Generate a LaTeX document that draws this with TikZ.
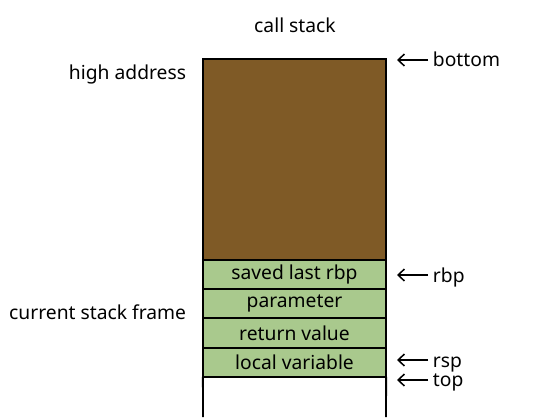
\documentclass[tikz,border=0pt]{standalone}
\usepackage{fontspec}
\setmainfont{Noto Sans}
\usetikzlibrary{positioning,arrows.meta}
\definecolor{oldbrown}{RGB}{127,90,38}
\definecolor{framegreen}{RGB}{169,201,141}
\begin{document}
\begin{tikzpicture}[x=0.025cm,y=-0.025cm,
every node/.style={font=\fontsize{13.7}{16}\selectfont,text=black},
slot/.style={draw=black,line width=1.4pt,outer sep=0pt,minimum width=4.575cm,inner sep=0pt},
oldpart/.style={slot,fill=oldbrown,minimum height=5.025cm},
cell/.style={slot,fill=framegreen,minimum height=0.73cm},
side/.style={anchor=east},
ptr/.style={line width=1.1pt,-{Straight Barb[length=4.5pt,width=8.5pt]}},
ptrlabel/.style={anchor=base west}
]
\useasboundingbox (0,0) rectangle (560,417);
\node (title) at (295,25) {call stack};
% the stack, growing downwards
\node[oldpart] (old) at (294.5,159.5) {};
\node[cell,below=0pt of old] (saved) {saved last rbp};
\node[cell,below=0pt of saved] (param) {parameter};
\node[cell,below=0pt of param] (retval) {return value};
\node[cell,below=0pt of retval] (local) {local variable};
\coordinate (freel) at (203,417);
\coordinate (freer) at (386,417);
\draw[line width=1.4pt] (local.south west) -- (freel);
\draw[line width=1.4pt] (local.south east) -- (freer);
% left side labels
\node[side] (high) at (191,74) {high address};
\node[side] (frame) at (191,312) {current stack frame};
% pointers
\coordinate (tbottom) at (397,60);
\coordinate (trbp) at (397,275);
\coordinate (trsp) at (397,360);
\coordinate (ttop) at (397,380);
\node[ptrlabel] (bottom) at (428,66) {bottom};
\node[ptrlabel] (rbp) at (428,282) {rbp};
\node[ptrlabel] (rsp) at (428,367) {rsp};
\node[ptrlabel] (top) at (428,386) {top};
\draw[ptr] (bottom.west |- tbottom) -- (tbottom);
\draw[ptr] (rbp.west |- trbp) -- (trbp);
\draw[ptr] (rsp.west |- trsp) -- (trsp);
\draw[ptr] (top.west |- ttop) -- (ttop);
\end{tikzpicture}
\end{document}
